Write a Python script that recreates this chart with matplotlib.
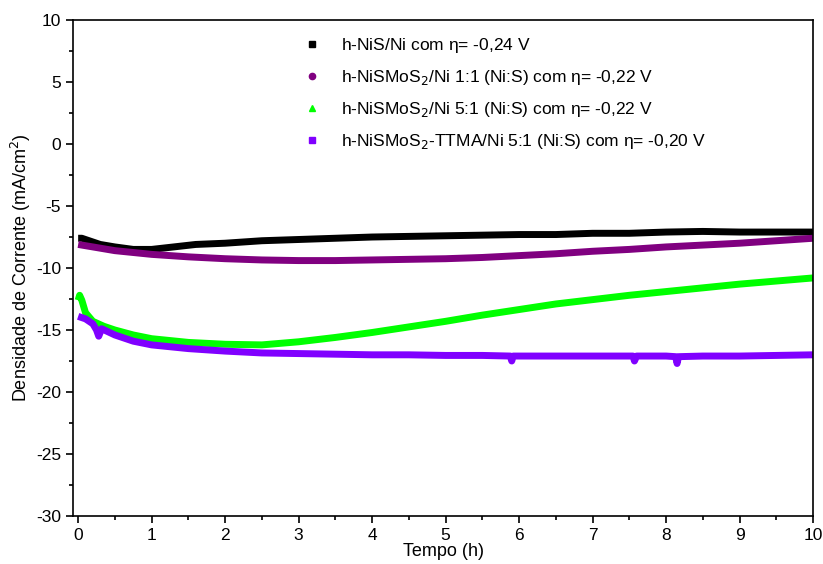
import matplotlib
matplotlib.use("Agg")
import matplotlib.pyplot as plt
from matplotlib.ticker import MultipleLocator
from matplotlib import font_manager

plt.rcParams['font.family'] = ['Liberation Sans', 'DejaVu Sans']
plt.rcParams['axes.unicode_minus'] = False

names = {f.name for f in font_manager.fontManager.ttflist}
narrow = 'Liberation Sans Narrow' if 'Liberation Sans Narrow' in names else 'Liberation Sans'

# Chronoamperometry: current density vs time
t_nis = [0.0, 0.05, 0.15, 0.3, 0.5, 0.75, 1.0, 1.3, 1.6, 2.0, 2.5, 3.0, 3.5, 4.0, 4.5, 5.0, 5.5, 6.0, 6.5, 7.0, 7.5, 8.0, 8.5, 9.0, 9.5, 10.0]
j_nis = [-7.6, -7.6, -7.8, -8.1, -8.3, -8.5, -8.5, -8.3, -8.1, -8.0, -7.8, -7.7, -7.6, -7.5, -7.45, -7.4, -7.35, -7.3, -7.3, -7.2, -7.2, -7.1, -7.05, -7.1, -7.1, -7.1]

t_11 = [0.0, 0.2, 0.5, 1.0, 1.5, 2.0, 2.5, 3.0, 3.5, 4.0, 4.5, 5.0, 5.5, 6.0, 6.5, 7.0, 7.5, 8.0, 8.5, 9.0, 9.5, 10.0]
j_11 = [-8.1, -8.3, -8.6, -8.9, -9.1, -9.25, -9.35, -9.4, -9.4, -9.35, -9.3, -9.25, -9.15, -9.0, -8.85, -8.65, -8.5, -8.3, -8.15, -8.0, -7.8, -7.6]

t_51 = [0.0, 0.02, 0.05, 0.1, 0.2, 0.35, 0.5, 0.75, 1.0, 1.5, 2.0, 2.5, 3.0, 3.5, 4.0, 4.5, 5.0, 5.5, 6.0, 6.5, 7.0, 7.5, 8.0, 8.5, 9.0, 9.5, 10.0]
j_51 = [-12.6, -12.2, -12.6, -13.6, -14.3, -14.7, -15.0, -15.4, -15.7, -16.0, -16.15, -16.2, -15.95, -15.6, -15.2, -14.75, -14.3, -13.8, -13.35, -12.9, -12.55, -12.2, -11.9, -11.6, -11.3, -11.05, -10.8]

t_tt = [0.0, 0.1, 0.2, 0.25, 0.28, 0.32, 0.5, 0.75, 1.0, 1.5, 2.0, 2.5, 3.0, 3.5, 4.0, 4.5, 5.0, 5.5, 5.88, 5.9, 5.92, 6.5, 7.0, 7.55, 7.57, 7.6, 8.0, 8.13, 8.15, 8.17, 8.5, 9.0, 9.5, 10.0]
j_tt = [-13.9, -14.1, -14.5, -15.0, -15.5, -14.9, -15.4, -15.9, -16.2, -16.5, -16.7, -16.85, -16.9, -16.95, -17.0, -17.0, -17.05, -17.05, -17.1, -17.5, -17.1, -17.1, -17.1, -17.1, -17.5, -17.1, -17.1, -17.15, -17.7, -17.15, -17.1, -17.1, -17.05, -17.0]

series = [
    (t_nis, j_nis, '#000000', 's', r'h-NiS/Ni com $\mathregular{\eta}$= -0,24 V'),
    (t_11, j_11, '#800080', 'o', r'h-NiSMoS$_2$/Ni 1:1 (Ni:S) com $\mathregular{\eta}$= -0,22 V'),
    (t_51, j_51, '#00FF00', '^', r'h-NiSMoS$_2$/Ni 5:1 (Ni:S) com $\mathregular{\eta}$= -0,22 V'),
    (t_tt, j_tt, '#8000FF', 's', r'h-NiSMoS$_2$-TTMA/Ni 5:1 (Ni:S) com $\mathregular{\eta}$= -0,20 V'),
]

fig = plt.figure(figsize=(8.23, 5.64), dpi=100)
ax = fig.add_axes([0.0887, 0.0851, 0.8992, 0.8794])

handles = []
for t, j, c, m, lab in series:
    ax.plot(t, j, color=c, lw=5.0, solid_capstyle='butt', solid_joinstyle='round')
    h, = ax.plot([], [], ls='none', marker=m, color=c, markersize=4.5, label=lab)
    handles.append(h)

ax.set_xlim(-0.07, 10)
ax.set_ylim(-30, 10)
ax.xaxis.set_major_locator(MultipleLocator(1))
ax.xaxis.set_minor_locator(MultipleLocator(0.5))
ax.yaxis.set_major_locator(MultipleLocator(5))
ax.yaxis.set_minor_locator(MultipleLocator(2.5))
ax.tick_params(which='both', direction='out', top=False, right=False, labelsize=12.5, width=1.2)
ax.tick_params(which='major', length=5)
ax.tick_params(which='minor', length=3)
for lbl in ax.get_xticklabels() + ax.get_yticklabels():
    lbl.set_fontfamily([narrow, 'DejaVu Sans'])
for s in ax.spines.values():
    s.set_linewidth(1.2)

ax.set_xlabel('Tempo (h)', fontsize=13, labelpad=0, fontfamily=[narrow, 'DejaVu Sans'])
ax.set_ylabel('Densidade de Corrente (mA/cm$^2$)', fontsize=13, labelpad=2)

ax.legend(handles=handles, loc='upper left', bbox_to_anchor=(0.29, 1.0), frameon=False,
          fontsize=12.5, handlelength=1.0, handletextpad=1.2, labelspacing=0.75)

fig.savefig('out.png', dpi=100)
